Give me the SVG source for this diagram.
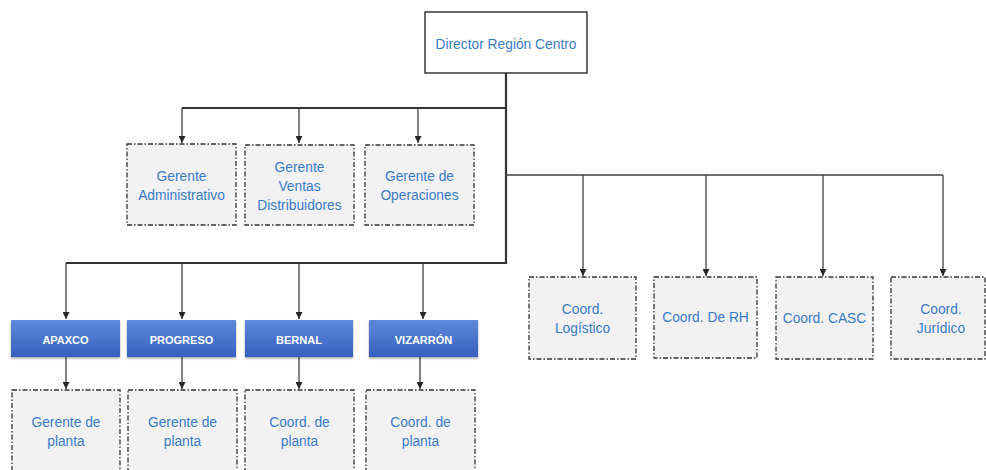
<svg xmlns="http://www.w3.org/2000/svg" width="986" height="470" viewBox="0 0 986 470">
  <style>
    .lbl { font-family: "Liberation Sans", Arial, sans-serif; font-size: 13.8px; fill: #3A7BC8; text-anchor: middle; }
    .site { font-family: "Liberation Sans", Arial, sans-serif; font-size: 11px; font-weight: bold; fill: #FFFFFF; text-anchor: middle; }
    .box { fill: #F2F2F2; stroke: #333333; stroke-width: 1.3; stroke-dasharray: 5 2 1.5 2; }
    .head { fill: #FFFFFF; stroke: #1A1A1A; stroke-width: 1.3; }
    .plant { fill: url(#blueGrad); filter: url(#shadow); }
    .trunk { fill: none; stroke: #333333; stroke-width: 2.2; }
    .branch { fill: none; stroke: #404040; stroke-width: 1.3; }
    .drop { fill: none; stroke: #404040; stroke-width: 1.3; marker-end: url(#arrow); }
  </style>
  <defs>
    <linearGradient id="blueGrad" x1="0" y1="0" x2="0" y2="1">
      <stop offset="0" stop-color="#5E89D9"/>
      <stop offset="1" stop-color="#3560BF"/>
    </linearGradient>
    <filter id="shadow" x="-10%" y="-20%" width="120%" height="150%">
      <feDropShadow dx="0" dy="1.5" stdDeviation="1.2" flood-color="#000000" flood-opacity="0.35"/>
    </filter>
    <marker id="arrow" viewBox="0 0 10 10" refX="10" refY="5" markerWidth="7" markerHeight="7" markerUnits="userSpaceOnUse" orient="auto">
      <path d="M0,0 L10,5 L0,10 Z" fill="#262626"/>
    </marker>
  </defs>

  <!-- connectors -->
  <g id="connectors">
    <!-- main trunk from the director down to the plant row -->
    <polyline class="trunk" points="506,73 506,263 66,263"/>
    <line class="trunk" x1="506" y1="108" x2="182" y2="108"/>
    <line class="branch" x1="506" y1="175" x2="943" y2="175"/>
    <!-- managers -->
    <line class="drop" x1="182" y1="108" x2="182" y2="143"/>
    <line class="drop" x1="299" y1="108" x2="299" y2="143"/>
    <line class="drop" x1="418" y1="108" x2="418" y2="143"/>
    <!-- coordinators -->
    <line class="drop" x1="583" y1="175" x2="583" y2="276"/>
    <line class="drop" x1="706" y1="175" x2="706" y2="276"/>
    <line class="drop" x1="823" y1="175" x2="823" y2="276"/>
    <line class="drop" x1="943" y1="175" x2="943" y2="276"/>
    <!-- plants -->
    <line class="drop" x1="66" y1="263" x2="66" y2="319"/>
    <line class="drop" x1="182" y1="263" x2="182" y2="319"/>
    <line class="drop" x1="299" y1="263" x2="299" y2="319"/>
    <line class="drop" x1="423" y1="263" x2="423" y2="319"/>
    <!-- plant staff -->
    <line class="drop" x1="66" y1="357" x2="66" y2="389"/>
    <line class="drop" x1="182" y1="357" x2="182" y2="389"/>
    <line class="drop" x1="299" y1="357" x2="299" y2="389"/>
    <line class="drop" x1="420" y1="357" x2="420" y2="389"/>
  </g>

  <g id="director">
    <rect class="head" x="425" y="12" width="162" height="61"/>
    <text class="lbl" x="506" y="49">Director Región Centro</text>
  </g>

  <g id="gerente-administrativo">
    <rect class="box" x="127" y="144" width="109" height="81"/>
    <text class="lbl" x="181.5" y="181">Gerente</text>
    <text class="lbl" x="181.5" y="200">Administrativo</text>
  </g>
  <g id="gerente-ventas">
    <rect class="box" x="245" y="145" width="109" height="80"/>
    <text class="lbl" x="299.5" y="172">Gerente</text>
    <text class="lbl" x="299.5" y="191">Ventas</text>
    <text class="lbl" x="299.5" y="210">Distribuidores</text>
  </g>
  <g id="gerente-operaciones">
    <rect class="box" x="365" y="145" width="109" height="80"/>
    <text class="lbl" x="419.5" y="181">Gerente de</text>
    <text class="lbl" x="419.5" y="200">Operaciones</text>
  </g>

  <g id="coord-logistico">
    <rect class="box" x="529" y="277" width="107" height="82"/>
    <text class="lbl" x="582.5" y="314">Coord.</text>
    <text class="lbl" x="582.5" y="333">Logístico</text>
  </g>
  <g id="coord-rh">
    <rect class="box" x="654" y="277" width="103" height="81"/>
    <text class="lbl" x="705.5" y="322">Coord. De RH</text>
  </g>
  <g id="coord-casc">
    <rect class="box" x="776" y="277" width="97" height="82"/>
    <text class="lbl" x="824.5" y="323">Coord. CASC</text>
  </g>
  <g id="coord-juridico">
    <rect class="box" x="891" y="277" width="94" height="82"/>
    <text class="lbl" x="941" y="314">Coord.</text>
    <text class="lbl" x="941" y="333">Jurídico</text>
  </g>

  <g id="apaxco">
    <rect class="plant" x="11" y="320" width="109" height="37"/>
    <text class="site" x="65.5" y="344">APAXCO</text>
  </g>
  <g id="progreso">
    <rect class="plant" x="127" y="320" width="109" height="37"/>
    <text class="site" x="181.5" y="344">PROGRESO</text>
  </g>
  <g id="bernal">
    <rect class="plant" x="245" y="320" width="108" height="37"/>
    <text class="site" x="299" y="344">BERNAL</text>
  </g>
  <g id="vizarron">
    <rect class="plant" x="369" y="320" width="109" height="37"/>
    <text class="site" x="423.5" y="344">VIZARRÓN</text>
  </g>

  <g id="gerente-planta-apaxco">
    <rect class="box" x="12" y="390" width="108" height="90"/>
    <text class="lbl" x="66" y="427">Gerente de</text>
    <text class="lbl" x="66" y="446">planta</text>
  </g>
  <g id="gerente-planta-progreso">
    <rect class="box" x="128" y="390" width="109" height="90"/>
    <text class="lbl" x="182.5" y="427">Gerente de</text>
    <text class="lbl" x="182.5" y="446">planta</text>
  </g>
  <g id="coord-planta-bernal">
    <rect class="box" x="245" y="390" width="109" height="90"/>
    <text class="lbl" x="299.5" y="427">Coord. de</text>
    <text class="lbl" x="299.5" y="446">planta</text>
  </g>
  <g id="coord-planta-vizarron">
    <rect class="box" x="366" y="390" width="109" height="90"/>
    <text class="lbl" x="420.5" y="427">Coord. de</text>
    <text class="lbl" x="420.5" y="446">planta</text>
  </g>
</svg>
